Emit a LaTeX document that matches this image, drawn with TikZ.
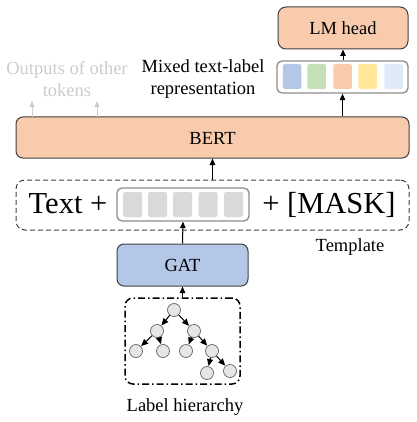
\documentclass[tikz,border=0pt]{standalone}
\usepackage{fontspec}
\setmainfont{Liberation Serif}
\usetikzlibrary{arrows.meta}
\definecolor{salmon}{HTML}{F8CBAD}
\definecolor{blu}{HTML}{B4C7E7}
\definecolor{grn}{HTML}{C5E0B4}
\definecolor{yel}{HTML}{FFE699}
\definecolor{lblu}{HTML}{DEEBF7}
\definecolor{lgray}{HTML}{D9D9D9}
\definecolor{bord}{HTML}{404040}
\definecolor{ghost}{HTML}{CCCCCC}
\definecolor{nodefill}{HTML}{E7E6E6}
\tikzset{
  txt/.style={font=\fontsize{18.5}{22}\selectfont, align=center, inner sep=0pt},
  bigtxt/.style={font=\fontsize{30.5}{34}\selectfont, inner sep=0pt, anchor=base},
  mainbox/.style={draw=bord, line width=1pt, rounded corners=7pt, inner sep=0pt},
  cell/.style={draw=none, rounded corners=1.5pt, inner sep=0pt},
  holder/.style={draw=gray!90, line width=1.3pt, rounded corners=5pt, inner sep=0pt},
  arr/.style={-{Triangle[length=6.5pt,width=5.5pt]}, line width=1pt, black},
  ghostarr/.style={-{Triangle[length=6pt,width=5pt]}, line width=1pt, ghost},
  tnode/.style={circle, draw=gray!80!black, fill=nodefill, line width=0.7pt, minimum size=13pt, inner sep=0pt},
  tarr/.style={-{Triangle[length=7pt,width=6pt]}, line width=1pt, black, shorten >=0.3pt}
}
\begin{document}
\begin{tikzpicture}[x=1pt,y=-1pt]
\useasboundingbox (0,0) rectangle (416,422);
% LM head
\node[mainbox, fill=salmon, minimum width=130pt, minimum height=42pt, rounded corners=8pt] (lm) at (343,28) {};
\node[txt] (lmt) at (343,28) {LM head};
% representation holder
\node[holder, minimum width=131pt, minimum height=32pt] (rep) at (342.5,77) {};
\node[cell, fill=blu, minimum width=18.5pt, minimum height=25pt] (c1) at (292,76.5) {};
\node[cell, fill=grn, minimum width=18.5pt, minimum height=25pt] (c2) at (316.5,76.5) {};
\node[cell, fill=salmon, minimum width=18.5pt, minimum height=25pt] (c3) at (342.5,76.5) {};
\node[cell, fill=yel, minimum width=18.5pt, minimum height=25pt] (c4) at (367.5,76.5) {};
\node[cell, fill=lblu, minimum width=18.5pt, minimum height=25pt] (c5) at (393.5,76.5) {};
\node[txt] (mix) at (203,79) {Mixed text-label\\representation};
\node[txt, text=ghost] (oth) at (67,79) {Outputs of other\\tokens};
% BERT
\node[mainbox, fill=salmon, minimum width=393pt, minimum height=41pt] (bert) at (212.5,137.5) {};
\node[txt] (bertt) at (212.5,138) {BERT};
\coordinate (g1) at (32,101);
\coordinate (g2) at (97,101);
\draw[ghostarr] (32,117) -- (g1);
\draw[ghostarr] (97,117) -- (g2);
\draw[arr] (rep.north -| lm) -- (lm.south);
\draw[arr] (bert.north -| rep) -- (rep.south);
% Template
\node[draw=bord, dashed, dash pattern=on 5pt off 3pt, line width=1pt, rounded corners=9pt, minimum width=393pt, minimum height=50pt, inner sep=0pt] (tmpl) at (212.5,205) {};
\node[bigtxt] (textplus) at (68,213) {Text +};
\node[bigtxt] (mask) at (329,213) {+ [MASK]};
\node[holder, minimum width=132pt, minimum height=33pt] (emb) at (183,204.5) {};
\node[cell, fill=lgray, minimum width=19pt, minimum height=25pt] (e1) at (132.5,204.5) {};
\node[cell, fill=lgray, minimum width=19pt, minimum height=25pt] (e2) at (157.5,204.5) {};
\node[cell, fill=lgray, minimum width=19pt, minimum height=25pt] (e3) at (182.5,204.5) {};
\node[cell, fill=lgray, minimum width=19pt, minimum height=25pt] (e4) at (208,204.5) {};
\node[cell, fill=lgray, minimum width=19pt, minimum height=25pt] (e5) at (233.5,204.5) {};
\draw[arr] (tmpl.north -| bert) -- (bert.south);
\node[txt] (tl) at (350,247) {Template};
% GAT
\node[mainbox, fill=blu, minimum width=131pt, minimum height=42pt] (gat) at (182.5,265) {};
\node[txt] (gatt) at (182.5,265.5) {GAT};
\draw[arr] (gat.north) -- (emb.south);
% hierarchy box
\node[draw=black, line width=1.5pt, dash pattern=on 7pt off 3pt on 1.5pt off 3pt, rounded corners=8pt, minimum width=115pt, minimum height=86pt, inner sep=0pt] (hier) at (182.5,341) {};
\draw[arr] (hier.north) -- (gat.south);
\node[tnode] (r) at (174,310) {};
\node[tnode] (a) at (157,331) {};
\node[tnode] (b) at (194,331) {};
\node[tnode] (a1) at (136,351) {};
\node[tnode] (a2) at (163,351) {};
\node[tnode] (b1) at (186,351) {};
\node[tnode] (b2) at (212,351) {};
\node[tnode] (c1n) at (207,373) {};
\node[tnode] (c2n) at (230,371) {};
\draw[tarr] (r) -- (a);
\draw[tarr] (r) -- (b);
\draw[tarr] (a) -- (a1);
\draw[tarr] (a) -- (a2);
\draw[tarr] (b) -- (b1);
\draw[tarr] (b) -- (b2);
\draw[tarr] (b2) -- (c1n);
\draw[tarr] (b2) -- (c2n);
\node[txt] (lh) at (185,407) {Label hierarchy};
\end{tikzpicture}
\end{document}
